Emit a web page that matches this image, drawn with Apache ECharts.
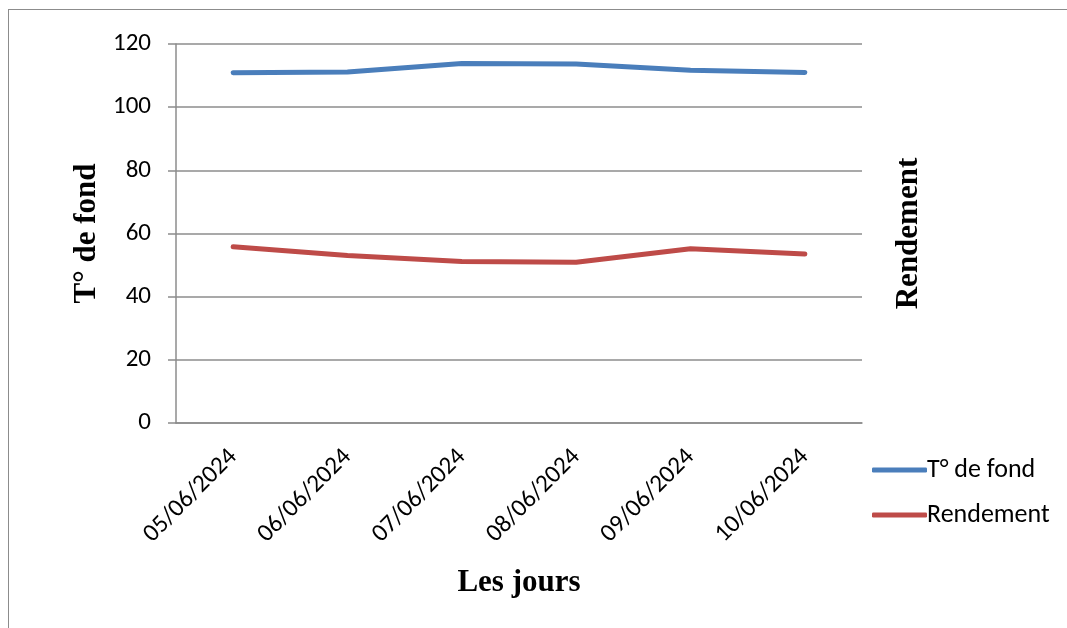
<!DOCTYPE html>
<html>
<head>
<meta charset="utf-8">
<script src="https://cdn.jsdelivr.net/npm/echarts@6/dist/echarts.min.js"></script>
<style>
  html, body { margin: 0; padding: 0; background: #fff; }
  #wrap { position: relative; width: 1067px; height: 628px; overflow: hidden; }
  #frame { position: absolute; left: 8px; top: 9px; width: 1100px; height: 700px; border: 1px solid #8c8c8c; }
  #chart { position: absolute; left: 0; top: 0; width: 1067px; height: 628px; }
</style>
</head>
<body>
<div id="wrap">
  <div id="frame"></div>
  <div id="chart"></div>
</div>
<script>
const days = ['05/06/2024', '06/06/2024', '07/06/2024', '08/06/2024', '09/06/2024', '10/06/2024'];
const tempFond = [110.9, 111.1, 113.8, 113.7, 111.7, 111.0];
const rendement = [55.8, 53.0, 51.1, 50.9, 55.2, 53.5];

const labelFont = 'Carlito, "Liberation Sans", Arial, sans-serif';
const titleFont = '"Liberation Serif", "Times New Roman", serif';

const myChart = echarts.init(document.getElementById('chart'));
myChart.setOption({
  animation: false,
  grid: { left: 176, right: 205, top: 44, bottom: 205 },
  legend: {
    orient: 'vertical',
    left: 867,
    top: 452,
    itemWidth: 55,
    itemHeight: 5,
    itemGap: 19,
    icon: 'roundRect',
    textStyle: { fontFamily: labelFont, fontSize: 26, color: '#000', padding: [0, 0, 0, -5] },
    data: ['T° de fond', 'Rendement']
  },
  xAxis: {
    type: 'category',
    data: days,
    name: 'Les jours',
    nameLocation: 'middle',
    nameGap: 144,
    nameTextStyle: { fontFamily: titleFont, fontWeight: 'bold', fontSize: 31, color: '#000' },
    axisLine: { lineStyle: { color: '#8c8c8c', width: 1.5 } },
    axisTick: { show: false },
    axisLabel: {
      interval: 0,
      rotate: 45,
      margin: 30,
      fontFamily: labelFont,
      fontSize: 25,
      color: '#000'
    }
  },
  yAxis: [
    {
      type: 'value',
      min: 0,
      max: 120,
      interval: 20,
      name: 'T° de fond',
      nameLocation: 'middle',
      nameGap: 73,
      nameTextStyle: { fontFamily: titleFont, fontWeight: 'bold', fontSize: 31, color: '#000' },
      axisLine: { show: true, lineStyle: { color: '#8c8c8c', width: 1.5 } },
      axisTick: { show: true, length: 8, lineStyle: { color: '#8c8c8c', width: 1.5 } },
      axisLabel: { margin: 25, fontFamily: labelFont, fontSize: 25, color: '#000' },
      splitLine: { lineStyle: { color: '#8c8c8c', width: 1.5 } }
    },
    {
      type: 'value',
      min: 0,
      max: 120,
      position: 'right',
      name: 'Rendement',
      nameLocation: 'middle',
      nameRotate: 90,
      nameGap: 31,
      nameTextStyle: { fontFamily: titleFont, fontWeight: 'bold', fontSize: 31, color: '#000' },
      axisLine: { show: false },
      axisTick: { show: false },
      axisLabel: { show: false },
      splitLine: { show: false }
    }
  ],
  series: [
    {
      name: 'T° de fond',
      type: 'line',
      data: tempFond,
      symbol: 'none',
      color: '#4a7ebb',
      lineStyle: { width: 5, cap: 'round', join: 'round' }
    },
    {
      name: 'Rendement',
      type: 'line',
      data: rendement,
      symbol: 'none',
      color: '#be4b48',
      lineStyle: { width: 5, cap: 'round', join: 'round' }
    }
  ]
});
</script>
</body>
</html>
